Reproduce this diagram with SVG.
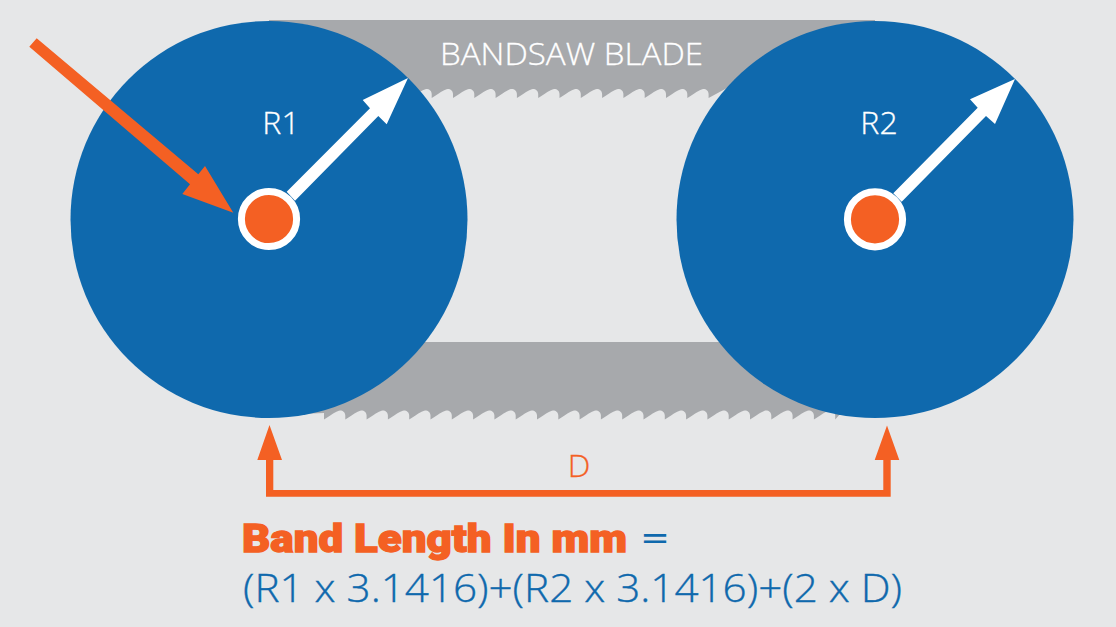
<svg xmlns="http://www.w3.org/2000/svg" width="1116" height="627" viewBox="0 0 1116 627">
<style>
.wheel{fill:#0f69ad}
.blade{fill:#a7a9ac}
.orange{fill:#f46023}
.white{fill:#fff}
.hub{fill:#f46023;stroke:#fff;stroke-width:7}
.lab{font-family:"Open Sans","Noto Sans",sans-serif;font-weight:300;fill:#fff;stroke:#fff;stroke-width:.3px;font-size:32px}
.f{font-family:"Open Sans","Noto Sans",sans-serif;font-weight:300;fill:#0f69ad;stroke:#0f69ad;stroke-width:.35px;font-size:39px}
.eq{font-family:"Lato","Open Sans",sans-serif;font-weight:400;fill:#0f69ad;font-size:38px}
.h{font-family:"Roboto","Lato",sans-serif;font-weight:900;fill:#f46023;font-size:38px;stroke:#f46023;stroke-width:1.300;paint-order:stroke}
</style>
<rect width="1116" height="627" fill="#e6e7e8"/>
<g id="blade-top"><path class="blade" d="M269 20V98H410.400c5 -3 9 -6 11 -7c2 -1 3.500 -2 5 -2c3 0 5.300 2 5.300 5v4c5 -3 9 -6 11 -7c2 -1 3.500 -2 5 -2c3 0 5.300 2 5.300 5v4c5 -3 9 -6 11 -7c2 -1 3.500 -2 5 -2c3 0 5.300 2 5.300 5v4c5 -3 9 -6 11 -7c2 -1 3.500 -2 5 -2c3 0 5.300 2 5.300 5v4c5 -3 9 -6 11 -7c2 -1 3.500 -2 5 -2c3 0 5.300 2 5.300 5v4c5 -3 9 -6 11 -7c2 -1 3.500 -2 5 -2c3 0 5.300 2 5.300 5v4c5 -3 9 -6 11 -7c2 -1 3.500 -2 5 -2c3 0 5.300 2 5.300 5v4c5 -3 9 -6 11 -7c2 -1 3.500 -2 5 -2c3 0 5.300 2 5.300 5v4c5 -3 9 -6 11 -7c2 -1 3.500 -2 5 -2c3 0 5.300 2 5.300 5v4c5 -3 9 -6 11 -7c2 -1 3.500 -2 5 -2c3 0 5.300 2 5.300 5v4c5 -3 9 -6 11 -7c2 -1 3.500 -2 5 -2c3 0 5.300 2 5.300 5v4c5 -3 9 -6 11 -7c2 -1 3.500 -2 5 -2c3 0 5.300 2 5.300 5v4c5 -3 9 -6 11 -7c2 -1 3.500 -2 5 -2c3 0 5.300 2 5.300 5v4c5 -3 9 -6 11 -7c2 -1 3.500 -2 5 -2c3 0 5.300 2 5.300 5v4L727 88L745 78L875 22V20Z"/>
<text class="lab" x="440" y="65" textLength="263" lengthAdjust="spacingAndGlyphs">BANDSAW BLADE</text></g>
<g id="blade-bottom"><path class="blade" d="M300 414L324 413V419.500c5 -3 9 -6 11 -7c2 -1 3.500 -2 5 -2c3 0 5.300 2 5.300 5v4c5 -3 9 -6 11 -7c2 -1 3.500 -2 5 -2c3 0 5.300 2 5.300 5v4c5 -3 9 -6 11 -7c2 -1 3.500 -2 5 -2c3 0 5.300 2 5.300 5v4c5 -3 9 -6 11 -7c2 -1 3.500 -2 5 -2c3 0 5.300 2 5.300 5v4c5 -3 9 -6 11 -7c2 -1 3.500 -2 5 -2c3 0 5.300 2 5.300 5v4c5 -3 9 -6 11 -7c2 -1 3.500 -2 5 -2c3 0 5.300 2 5.300 5v4c5 -3 9 -6 11 -7c2 -1 3.500 -2 5 -2c3 0 5.300 2 5.300 5v4c5 -3 9 -6 11 -7c2 -1 3.500 -2 5 -2c3 0 5.300 2 5.300 5v4c5 -3 9 -6 11 -7c2 -1 3.500 -2 5 -2c3 0 5.300 2 5.300 5v4c5 -3 9 -6 11 -7c2 -1 3.500 -2 5 -2c3 0 5.300 2 5.300 5v4c5 -3 9 -6 11 -7c2 -1 3.500 -2 5 -2c3 0 5.300 2 5.300 5v4c5 -3 9 -6 11 -7c2 -1 3.500 -2 5 -2c3 0 5.300 2 5.300 5v4c5 -3 9 -6 11 -7c2 -1 3.500 -2 5 -2c3 0 5.300 2 5.300 5v4c5 -3 9 -6 11 -7c2 -1 3.500 -2 5 -2c3 0 5.300 2 5.300 5v4c5 -3 9 -6 11 -7c2 -1 3.500 -2 5 -2c3 0 5.300 2 5.300 5v4c5 -3 9 -6 11 -7c2 -1 3.500 -2 5 -2c3 0 5.300 2 5.300 5v4c5 -3 9 -6 11 -7c2 -1 3.500 -2 5 -2c3 0 5.300 2 5.300 5v4c5 -3 9 -6 11 -7c2 -1 3.500 -2 5 -2c3 0 5.300 2 5.300 5v4c5 -3 9 -6 11 -7c2 -1 3.500 -2 5 -2c3 0 5.300 2 5.300 5v4c5 -3 9 -6 11 -7c2 -1 3.500 -2 5 -2c3 0 5.300 2 5.300 5v4c5 -3 9 -6 11 -7c2 -1 3.500 -2 5 -2c3 0 5.300 2 5.300 5v4c5 -3 9 -6 11 -7c2 -1 3.500 -2 5 -2c3 0 5.300 2 5.300 5v4c5 -3 9 -6 11 -7c2 -1 3.500 -2 5 -2c3 0 5.300 2 5.300 5v4c5 -3 9 -6 11 -7c2 -1 3.500 -2 5 -2c3 0 5.300 2 5.300 5v4L848 405V342H300Z"/></g>
<g id="wheel-r1"><circle class="wheel" cx="269" cy="219.500" r="198.500"/>
<text class="lab" x="281" y="134" text-anchor="middle">R1</text></g>
<g id="wheel-r2"><circle class="wheel" cx="875" cy="219.500" r="198.500"/>
<text class="lab" x="879" y="134" text-anchor="middle">R2</text></g>
<g id="connectors">
<polygon class="white" points="286.700,191.700 370,108.300 362.700,100 408,78 386.700,124.300 378.300,116 295,200.700"/>
<polygon class="white" points="893.300,193.300 977.700,107.700 970,99.300 1015,79 995,124 986,116 901.700,201.700"/>
<polygon class="orange" points="36.700,38.300 29.300,46.700 190,184.300 182.300,194 233.300,212.700 205,166 198.300,174.300"/>
<path class="orange" d="M266 496.700V460H257.300L269.500 425L282 460H273.300V490H883.300V460H874.700L887 425.500L899.300 460H890.700V496.700Z"/>
</g>
<g id="hub-r1"><circle class="hub" cx="269" cy="219" r="27.600"/></g>
<g id="hub-r2"><circle class="hub" cx="875" cy="219.300" r="27.600"/></g>
<g id="label-d"><text x="579" y="477" text-anchor="middle" style="font-family:'Open Sans',sans-serif;font-weight:300;font-size:32px;fill:#f46023;stroke:#f46023;stroke-width:.3px">D</text></g>
<g id="formula">
<text class="h" x="242" y="552" textLength="385" lengthAdjust="spacingAndGlyphs">Band Length In mm</text>
<text class="eq" x="640" y="552" textLength="30" lengthAdjust="spacingAndGlyphs">=</text>
<text class="f" x="243" y="602" textLength="659" lengthAdjust="spacingAndGlyphs">(R1 x 3.1416)+(R2 x 3.1416)+(2 x D)</text>
</g>
</svg>
